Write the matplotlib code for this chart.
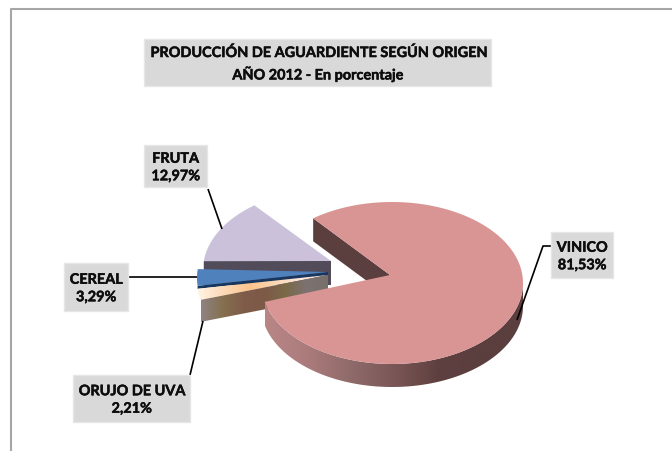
import numpy as np
import matplotlib
matplotlib.use("Agg")
import matplotlib.pyplot as plt
import matplotlib.patheffects as pe
from matplotlib.colors import LinearSegmentedColormap
from matplotlib.patches import Polygon, Rectangle

# clockwise order, starting from the top left edge of the big slice
categories = ["VINICO", "ORUJO DE UVA", "CEREAL", "FRUTA"]
values = [81.53, 2.21, 3.29, 12.97]
title_lines = ["PRODUCCIÓN DE AGUARDIENTE SEGÚN ORIGEN", "AÑO 2012 - En porcentaje"]

START_ANGLE = 127
RY = 81

# slice layout in pixels
radii = {"VINICO": 131, "ORUJO DE UVA": 129, "CEREAL": 129, "FRUTA": 129}
centers = {"VINICO": (392, 284), "ORUJO DE UVA": (326, 282), "CEREAL": (326, 279), "FRUTA": (332, 271)}
apexes = {"VINICO": (390, 276), "ORUJO DE UVA": (328, 276), "CEREAL": (328, 273), "FRUTA": (331, 262)}
depths = {"VINICO": 23, "ORUJO DE UVA": 22, "CEREAL": 3, "FRUTA": 24}
tops = {"VINICO": "#d99594", "CEREAL": "#4f81bd", "FRUTA": "#ccc1da"}

# label boxes: left, top, right, bottom
boxes = {
    "VINICO": (551, 233, 613, 279),
    "ORUJO DE UVA": (73, 376, 190, 423),
    "CEREAL": (64, 264, 128, 312),
    "FRUTA": (144, 146, 207, 188),
}
leaders = {
    "VINICO": [(551, 247), (543, 247), (517, 321)],
    "ORUJO DE UVA": [(190, 376), (203, 322)],
    "CEREAL": [(128, 278), (197, 278)],
    "FRUTA": [(208, 190), (222, 230)],
}

FONT = "Lato"
# Lato bold is lighter than the original face
HEAVY = [pe.withStroke(linewidth=0.35, foreground="#0d0d0d")]


def slice_angles():
    angles = {}
    a = START_ANGLE
    for name, v in zip(categories, values):
        b = a - v * 3.6
        angles[name] = (a, b)
        a = b
    return angles


def rim_point(name, angle):
    cx, cy = centers[name]
    t = np.radians(angle)
    return np.array([cx + radii[name] * np.cos(t), cy - RY * np.sin(t)])


def arc(name, a, b, n=120):
    return [rim_point(name, t) for t in np.linspace(a, b, n)]


def gradient_fill(ax, pts, colors, zorder):
    # left to right gradient clipped to a polygon
    pts = np.array(pts)
    x0, x1 = pts[:, 0].min(), pts[:, 0].max()
    y0, y1 = pts[:, 1].min(), pts[:, 1].max()
    cmap = LinearSegmentedColormap.from_list("grad", colors)
    im = ax.imshow(np.linspace(0, 1, 256)[None, :], cmap=cmap, extent=(x0, x1, y1, y0),
                   aspect="auto", interpolation="bilinear", zorder=zorder)
    clip = Polygon(pts, closed=True, transform=ax.transData, facecolor="none", edgecolor="none")
    ax.add_patch(clip)
    im.set_clip_path(clip)


def main():
    fig = plt.figure(figsize=(6.72, 4.52), dpi=100)
    ax = fig.add_axes([0, 0, 1, 1])
    ax.axis("off")

    # chart frame
    ax.plot([672, 11, 11], [10, 10, 452], color="#a6a6a6", lw=1.5, zorder=1)

    angles = slice_angles()

    # fruta, sits at the back
    a, b = angles["FRUTA"]
    apex = np.array(apexes["FRUTA"])
    edge = rim_point("FRUTA", a)
    d = depths["FRUTA"]
    ax.add_patch(Polygon([edge, apex, apex + (0, d), edge + (0, d)],
                         facecolor="#514b5a", edgecolor="none", zorder=2))
    ax.add_patch(Polygon([apex] + arc("FRUTA", a, b), facecolor=tops["FRUTA"], edgecolor="none", zorder=3))

    # cereal
    a, b = angles["CEREAL"]
    apex = np.array(apexes["CEREAL"])
    edge = rim_point("CEREAL", a)
    d = depths["CEREAL"]
    ax.add_patch(Polygon([edge, apex, apex + (0, d), edge + (0, d)],
                         facecolor="#17375e", edgecolor="none", zorder=4))
    ax.add_patch(Polygon([apex] + arc("CEREAL", a, b), facecolor=tops["CEREAL"], edgecolor="none", zorder=5))

    # orujo, gradient on top and on the cut face
    a, b = angles["ORUJO DE UVA"]
    apex = np.array(apexes["ORUJO DE UVA"])
    edge = rim_point("ORUJO DE UVA", a)
    d = depths["ORUJO DE UVA"]
    gradient_fill(ax, [apex] + arc("ORUJO DE UVA", a, b, 20),
                  ["#fff3e4", "#fdd9b5", "#fdc48c", "#fbd8b8", "#fde9e0", "#fdeee8"], 6)
    gradient_fill(ax, [edge, apex, apex + (0, d), edge + (0, d)],
                  ["#8f8383", "#85704f", "#7e5c49", "#7d5a48", "#7a6a48", "#7c7272", "#77706a"], 6)

    # vinico
    a, b = angles["VINICO"]
    apex = np.array(apexes["VINICO"])
    d = depths["VINICO"]
    edge = rim_point("VINICO", a)
    ax.add_patch(Polygon([edge, apex, apex + (0, d), edge + (0, d)],
                         facecolor="#5b3e3e", edgecolor="none", zorder=7))
    lower = arc("VINICO", b + 360, 360, 160)
    band = lower + [p + (0, d) for p in lower[::-1]]
    gradient_fill(ax, band, ["#b98686", "#ab7b7b", "#8f6a6a", "#7b5656", "#5f4040", "#5b3e3e", "#5b3e3e"], 8)
    ax.add_patch(Polygon([apex] + arc("VINICO", a, b, 300), facecolor=tops["VINICO"], edgecolor="none", zorder=9))

    # leaders and label boxes
    for name, v in zip(categories, values):
        xs, ys = zip(*leaders[name])
        ax.plot(xs, ys, color="black", lw=1.2, zorder=10, solid_capstyle="butt")
        x0, y0, x1, y1 = boxes[name]
        ax.add_patch(Rectangle((x0, y0), x1 - x0, y1 - y0, facecolor="#d9d9d9", edgecolor="#e6e6e6", lw=1, zorder=11))
        label = f"{name}\n{v:.2f}%".replace(".", ",")
        ax.text((x0 + x1) / 2, (y0 + y1) / 2 + 1.5, label, ha="center", va="center", fontsize=10.4,
                fontweight="bold", family=FONT, color="#0d0d0d", linespacing=1.55, zorder=12,
                path_effects=HEAVY)

    # title
    ax.add_patch(Rectangle((144, 40), 347, 47, facecolor="#d9d9d9", edgecolor="#e6e6e6", lw=1, zorder=11))
    ax.text(317.5, 65, "\n".join(title_lines), ha="center", va="center", fontsize=10.4,
            fontweight="bold", family=FONT, color="#0d0d0d", linespacing=1.7, zorder=12,
            path_effects=HEAVY)

    ax.set_xlim(0, 672)
    ax.set_ylim(452, 0)
    fig.savefig("out.png", dpi=100)
    plt.close(fig)


if __name__ == "__main__":
    main()
